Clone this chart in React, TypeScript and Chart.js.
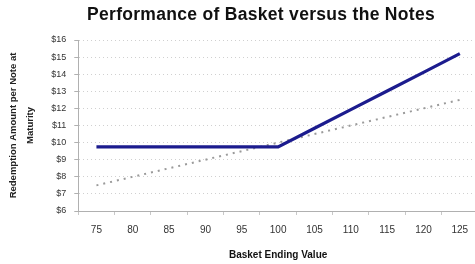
import React, { useEffect, useRef } from "react";
import { Chart, registerables } from "chart.js";

Chart.register(...registerables);

const categories = ["75", "80", "85", "90", "95", "100", "105", "110", "115", "120", "125"];
const notesValues = [9.75, 9.75, 9.75, 9.75, 9.75, 9.75, 10.84, 11.93, 13.02, 14.11, 15.2];
const basketValues = [7.5, 8.0, 8.5, 9.0, 9.5, 10.0, 10.5, 11.0, 11.5, 12.0, 12.5];
const titleText = "Performance of Basket versus the Notes";
const yTitle = ["Redemption Amount per Note at", "Maturity"];
const xTitle = "Basket Ending Value";

const FONT = "'Liberation Sans', Arial, sans-serif";

export default function App() {
  const ref = useRef<HTMLCanvasElement>(null);
  useEffect(() => {
    if (!ref.current) return;
    const chart = new Chart(ref.current, {
      type: "line",
      data: {
        labels: categories,
        datasets: [
          {
            label: "Notes",
            data: notesValues,
            borderColor: "#1c1c8e",
            borderWidth: 3.2,
            pointRadius: 0,
            tension: 0,
          },
          {
            label: "Basket",
            data: basketValues,
            borderColor: "#9a9a9a",
            borderWidth: 2,
            borderDash: [2, 5],
            pointRadius: 0,
            tension: 0,
          },
        ],
      },
      options: {
        responsive: false,
        animation: false,
        layout: { padding: { left: 5, right: 2, top: 40, bottom: 3 } },
        plugins: {
          legend: { display: false },
          tooltip: { enabled: false },
          title: { display: false },
        },
        scales: {
          x: {
            type: "category",
            offset: true,
            grid: {
              display: true,
              drawOnChartArea: false,
              drawTicks: true,
              tickLength: 4,
              color: "#c8c8c8",
              offset: true,
            },
            border: { display: true, color: "#b0b0b0", width: 1 },
            ticks: {
              color: "#333",
              font: { family: FONT, size: 10 },
              padding: 9,
              maxRotation: 0,
            },
            title: {
              display: true,
              text: xTitle,
              color: "#111",
              font: { family: FONT, size: 10, weight: "bold" },
              padding: { top: 4, bottom: 0 },
            },
          },
          y: {
            min: 6,
            max: 16,
            ticks: {
              stepSize: 1,
              color: "#333",
              font: { family: FONT, size: 9 },
              callback: (v: any) => "$" + v,
              padding: 8,
            },
            grid: {
              color: "#d0d0d0",
              lineWidth: 1,
              tickLength: 4,
              tickColor: "#b0b0b0",
            },
            border: { display: true, color: "#b0b0b0", width: 1, dash: [1, 3] },
            title: {
              display: true,
              text: yTitle,
              color: "#222",
              font: { family: FONT, size: 9.5, weight: "bold", lineHeight: 1.75 },
              padding: { top: 0, bottom: 5 },
            },
          },
        },
      },
    });
    return () => chart.destroy();
  }, []);
  return (
    <div style={{ position: "fixed", left: 0, top: 0, width: 475, height: 264, background: "#fff", overflow: "hidden" }}>
      <div
        style={{
          position: "absolute",
          left: 48,
          width: 426,
          top: 3,
          textAlign: "center",
          fontFamily: FONT,
          fontWeight: "bold",
          fontSize: 17.5,
          letterSpacing: 0.3,
          color: "#111",
          lineHeight: "22px",
        }}
      >
        {titleText}
      </div>
      <canvas ref={ref} width={480} height={264} style={{ display: "block" }} />
    </div>
  );
}
